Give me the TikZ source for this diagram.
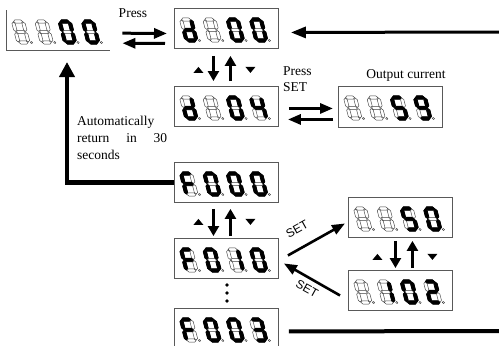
\documentclass[tikz,border=0pt]{standalone}
\usepackage{fontspec}
\setmainfont{Liberation Serif}
\newfontfamily\sansf{Liberation Sans}
\usetikzlibrary{arrows.meta,calc}

\def\segw{1.65}
\newcommand\hsg[3]{(#1+0.5,#3) -- (#1+0.5+\segw,#3+\segw) -- (#2-0.5-\segw,#3+\segw) -- (#2-0.5,#3) -- (#2-0.5-\segw,#3-\segw) -- (#1+0.5+\segw,#3-\segw) -- cycle}
\newcommand\vsg[3]{(#1,#2+0.5) -- (#1+\segw,#2+0.5+\segw) -- (#1+\segw,#3-0.5-\segw) -- (#1,#3-0.5) -- (#1-\segw,#3-0.5-\segw) -- (#1-\segw,#2+0.5+\segw) -- cycle}
\def\sga{\hsg{0}{10}{21}}
\def\sgb{\vsg{10}{10.5}{21}}
\def\sgc{\vsg{10}{0}{10.5}}
\def\sgd{\hsg{0}{10}{0}}
\def\sge{\vsg{0}{0}{10.5}}
\def\sgf{\vsg{0}{10.5}{21}}
\def\sgg{\hsg{0}{10}{10.5}}
\def\sgx{}

\tikzset{
  dbox/.style={draw=black!65, line width=0.9pt},
  boxnode/.style={anchor=north west, minimum width=104pt, minimum height=40pt, inner sep=0pt},
  segoff/.style={draw=black!75, line width=0.45pt, fill=white},
  segon/.style={draw=black, line width=0.8pt, fill=black},
  parr/.style={line width=3pt, -{Triangle[length=13pt,width=10pt]}},
  varr/.style={line width=3.5pt, -{Triangle[length=10pt,width=11pt]}},
  larr/.style={line width=3pt, -{Triangle[length=15pt,width=11pt]}},
  looparr/.style={line width=4.5pt, -{Triangle[length=15pt,width=15pt]}},
  setarr/.style={line width=2.6pt, -{Triangle[length=13pt,width=10pt]}},
  thickline/.style={line width=4pt},
  lab/.style={font=\fontsize{13.5}{16}\selectfont, inner sep=0pt},
  setlab/.style={font=\sansf\fontsize{12}{14}\selectfont, inner sep=0pt},
}

\newcommand\sdig[3]{%
  \begin{scope}[shift={(#1,#2)},yscale=-1,xslant=0.26]
    \foreach \q in {a,b,c,d,e,f,g}{\path[segoff] \csname sg\q\endcsname;}
    \foreach \q in {#3}{\path[segon] \csname sg\q\endcsname;}
    \path[segoff] (13,0) circle[radius=1.1];
  \end{scope}}
\newcommand\disp[6]{%
  \sdig{#1+12.5}{#2+32.5}{#3}%
  \sdig{#1+35.8}{#2+32.5}{#4}%
  \sdig{#1+59.1}{#2+32.5}{#5}%
  \sdig{#1+82.4}{#2+32.5}{#6}}

\begin{document}
\begin{tikzpicture}[x=1pt,y=-1pt]
\useasboundingbox (0,0) rectangle (499,346);

% boxes
\node[boxnode] (b0) at (6,10) {};
\draw[dbox] (b0.north west) -- (b0.south west) -- (b0.south east);
\node[boxnode,dbox] (b1) at (174,8) {};
\node[boxnode,dbox] (b2) at (174,86) {};
\node[boxnode,dbox,minimum height=41pt] (b3) at (338,86) {};
\node[boxnode,dbox] (b4) at (174,162) {};
\node[boxnode,dbox] (b5) at (174,238) {};
\node[boxnode,dbox] (b6) at (174,308) {};
\node[boxnode,dbox] (b7) at (348,197) {};
\node[boxnode,dbox] (b8) at (348,270) {};

% digits
\disp{6}{10}{x}{x}{a,b,c,d,e,f}{a,b,c,d,e,f}
\disp{174}{8}{b,c,d,e,g}{x}{a,b,c,d,e,f}{a,b,c,d,e,f}
\disp{174}{86}{b,c,d,e,g}{x}{a,b,c,d,e,f}{b,c,f,g}
\disp{338}{86}{x}{x}{a,c,d,f,g}{a,b,c,d,f,g}
\disp{174}{162}{a,e,f,g}{a,b,c,d,e,f}{a,b,c,d,e,f}{a,b,c,d,e,f}
\disp{174}{238}{a,e,f,g}{a,b,c,d,e,f}{b,c}{a,b,c,d,e,f}
\disp{174}{308}{a,e,f,g}{a,b,c,d,e,f}{a,b,c,d,e,f}{a,b,c,d,g}
\disp{348}{197}{x}{x}{a,c,d,f,g}{a,b,c,d,e,f}
\disp{348}{270}{x}{b,c}{a,b,c,d,e,f}{a,b,d,e,g}

% labels
\node[lab] (press1) at (133,13) {Press};
\node[lab, anchor=north west, align=left] (press2) at (283,66) {Press\\SET};
\node[lab] (outc) at (406,75) {Output current};
\node[lab, anchor=north west, text width=90pt, align=justify, font=\fontsize{13.5}{17}\selectfont] (auto) at (77,116) {Automatically\\ return\hfill in\hfill 30\\ seconds};
\node[setlab, rotate=29] (set1) at (297,229) {SET};
\node[setlab, rotate=-29] (set2) at (307,289) {SET};

% press arrows b0 <-> b1
\draw[parr] ($(b0.east)+(12,3)$) -- ($(b1.west)+(-7,5)$);
\draw[parr] ($(b1.west)+(-9,15)$) -- ($(b0.east)+(12,13)$);
% b2 <-> b3
\draw[parr] ($(b2.east)+(10,2)$) -- ($(b3.west)+(-5,1.5)$);
\draw[parr] ($(b3.west)+(-5,12.5)$) -- ($(b2.east)+(9,13)$);

% long arrow from right
\coordinate (rin) at (499,32);
\draw[larr] (rin) -- ($(b1.east)+(12,4)$);

% return loop
\coordinate (ret) at (67,62);
\draw[looparr] (b4.west) -| (ret);

% b1 - b2
\draw[varr] ($(b1.south)+(-13,7)$) -- ($(b2.north)+(-13,-5)$);
\draw[varr] ($(b2.north)+(4,-5)$) -- ($(b1.south)+(4,7)$);
\fill ($(b1.south)+(-28,21)$) ++(-5,3) -- ++(10,0) -- ++(-5,-6) -- cycle;
\fill ($(b1.south)+(24,21)$) ++(-5,-3) -- ++(10,0) -- ++(-5,6) -- cycle;
% b4 - b5
\draw[varr] ($(b4.south)+(-13,6)$) -- ($(b5.north)+(-13,-2)$);
\draw[varr] ($(b5.north)+(4,-2)$) -- ($(b4.south)+(4,6)$);
\fill ($(b4.south)+(-28,19)$) ++(-5,3) -- ++(10,0) -- ++(-5,-6) -- cycle;
\fill ($(b4.south)+(24,19)$) ++(-5,-3) -- ++(10,0) -- ++(-5,6) -- cycle;
% b7 - b8
\draw[varr] ($(b7.south)+(-5,3)$) -- ($(b8.north)+(-5,-2)$);
\draw[varr] ($(b8.north)+(12,-2)$) -- ($(b7.south)+(12,3)$);
\fill ($(b7.south)+(-23,19)$) ++(-5,3) -- ++(10,0) -- ++(-5,-6) -- cycle;
\fill ($(b7.south)+(32,19)$) ++(-5,-3) -- ++(10,0) -- ++(-5,6) -- cycle;

% SET arrows
\draw[setarr] ($(b5.east)+(9,-3)$) -- ($(b7.west)+(-3,6)$);
\draw[setarr] ($(b8.west)+(-8,5)$) -- ($(b5.east)+(5,5)$);

% dots
\fill (227,285) circle[radius=1.8];
\fill (227,293) circle[radius=1.8];
\fill (227,301) circle[radius=1.8];

% bottom line
\coordinate (rout) at (499,331);
\draw[thickline] ($(b6.east)+(10,3)$) -- (rout);
\end{tikzpicture}
\end{document}
